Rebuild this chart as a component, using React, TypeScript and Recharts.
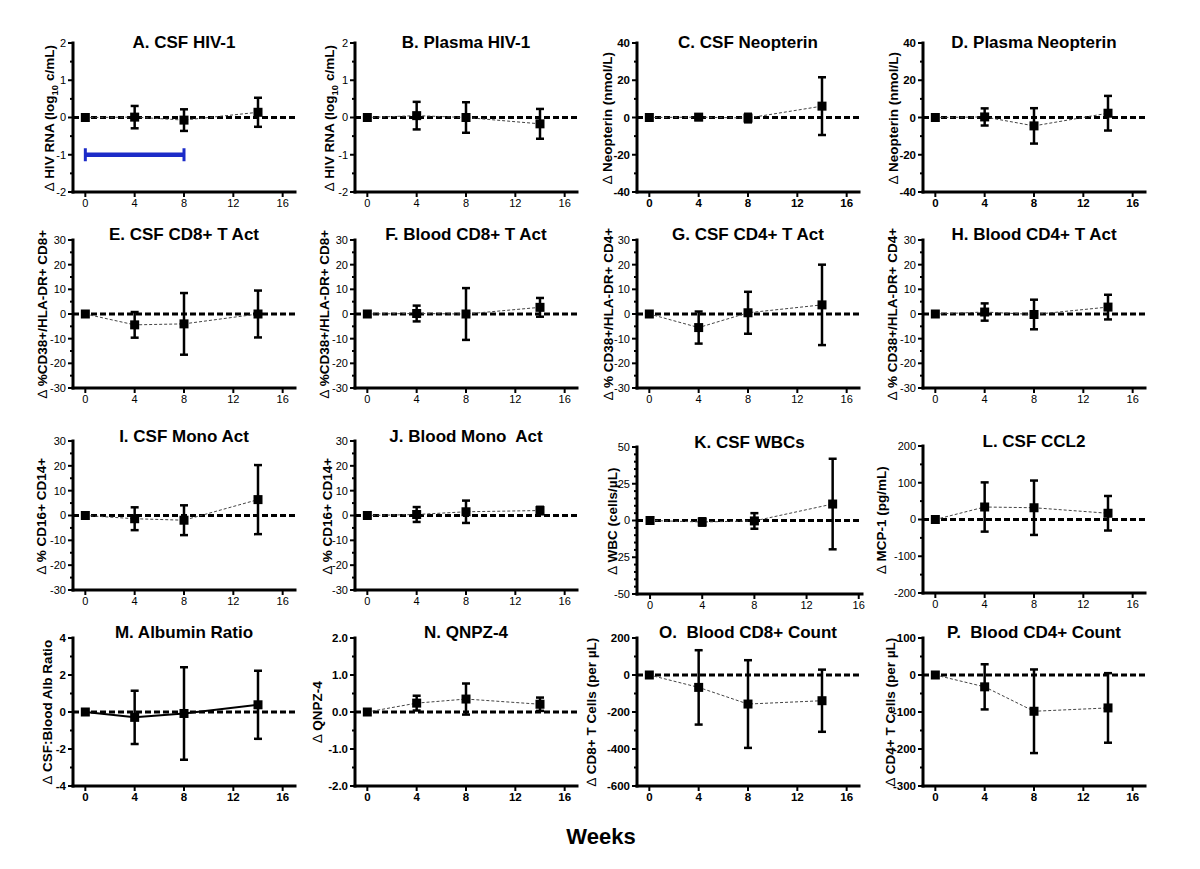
import React from "react";
import { LineChart, Line, XAxis, YAxis, ReferenceLine, ErrorBar } from "recharts";

// study visits (weeks) and x-axis ticks
const weeks = [0, 4, 8, 14];
const xTicks = [0, 4, 8, 12, 16];

// A. CSF HIV-1
const csfHivMean = [0, 0.01, -0.07, 0.14];
const csfHivErr = [0, 0.3, 0.29, 0.39];
// B. Plasma HIV-1
const plasmaHivMean = [0, 0.05, 0.0, -0.17];
const plasmaHivErr = [0, 0.37, 0.41, 0.4];
// C. CSF Neopterin
const csfNeoMean = [0, 0.2, -0.3, 6.1];
const csfNeoErr = [0, 1.5, 2.3, 15.5];
// D. Plasma Neopterin
const plasmaNeoMean = [0, 0.3, -4.5, 2.3];
const plasmaNeoErr = [0, 4.6, 9.5, 9.3];
// E. CSF CD8+ T Act
const csfCd8ActMean = [0, -4.4, -4.0, 0];
const csfCd8ActErr = [0, 5.2, 12.5, 9.5];
// F. Blood CD8+ T Act
const bloodCd8ActMean = [0, 0.2, 0, 2.7];
const bloodCd8ActErr = [0, 3.2, 10.5, 3.8];
// G. CSF CD4+ T Act
const csfCd4ActMean = [0, -5.5, 0.5, 3.7];
const csfCd4ActErr = [0, 6.5, 8.5, 16.3];
// H. Blood CD4+ T Act
const bloodCd4ActMean = [0, 0.8, -0.2, 2.8];
const bloodCd4ActErr = [0, 3.5, 6, 5];
// I. CSF Mono Act
const csfMonoMean = [0, -1.3, -1.9, 6.4];
const csfMonoErr = [0, 4.6, 6, 13.9];
// J. Blood Mono Act
const bloodMonoMean = [0, 0.4, 1.5, 2];
const bloodMonoErr = [0, 3, 4.5, 1.5];
// K. CSF WBCs
const csfWbcMean = [0, -1, -0.3, 11.2];
const csfWbcErr = [0, 2.5, 5.3, 30.8];
// L. CSF CCL2
const csfCcl2Mean = [0, 34, 32, 17];
const csfCcl2Err = [0, 67, 74, 47];
// M. Albumin Ratio
const albRatioMean = [0, -0.29, -0.08, 0.39];
const albRatioErr = [0, 1.44, 2.5, 1.84];
// N. QNPZ-4
const qnpzMean = [0, 0.24, 0.35, 0.21];
const qnpzErr = [0, 0.2, 0.42, 0.18];
// O. Blood CD8+ Count
const cd8CountMean = [0, -67, -157, -139];
const cd8CountErr = [0, 201, 237, 168];
// P. Blood CD4+ Count
const cd4CountMean = [0, -32, -98, -89];
const cd4CountErr = [0, 61, 113, 94];

// treatment bar drawn in panel A
const barWeeks = [0, 8];
const barLevel = [-1, -1];

// y-axis major ticks
const hivTicks = [-2, -1, 0, 1, 2];
const neoTicks = [-40, -20, 0, 20, 40];
const actTicks = [-30, -20, -10, 0, 10, 20, 30];
const wbcTicks = [-50, -25, 0, 25, 50];
const ccl2Ticks = [-200, -100, 0, 100, 200];
const albTicks = [-4, -2, 0, 2, 4];
const qnpzTicks = [-2, -1, 0, 1, 2];
const cd8Ticks = [-600, -400, -200, 0, 200];
const cd4Ticks = [-300, -200, -100, 0, 100];

const AXW = 50; // svg space left of the y axis
const TOPM = 8;
const RIGHTM = 8;
const XAH = 26;
const colX = [73, 355, 637, 923];
const FONT = '"Liberation Sans", Arial, Helvetica, sans-serif';
const BLUE = "#1c2bc8";

type PanelCfg = {
  title: string;
  ylabel: React.ReactNode;
  mean: number[];
  err: number[];
  yTicks: number[];
  minorDiv: number;
  col: number;
  top: number;
  h: number;
  titleY: number;
  labelDx: number;
  xMax?: number;
  w?: number;
  bold?: boolean;
  solid?: boolean;
  decimals?: number;
  bar?: boolean;
};

const tri = <span style={{ fontWeight: 400 }}>∆</span>;

const hivLabel = (
  <>
    {tri} HIV RNA (log<sub style={{ fontSize: "0.7em" }}>10</sub> c/mL)
  </>
);

const lbl = (s: string) => (
  <>
    {tri} {s}
  </>
);

const panels: PanelCfg[] = [
  { title: "A. CSF HIV-1", ylabel: hivLabel, mean: csfHivMean, err: csfHivErr, yTicks: hivTicks, minorDiv: 2, col: 0, top: 43, h: 149, titleY: 43, labelDx: -23, bar: true },
  { title: "B. Plasma HIV-1", ylabel: hivLabel, mean: plasmaHivMean, err: plasmaHivErr, yTicks: hivTicks, minorDiv: 2, col: 1, top: 43, h: 149, titleY: 43, labelDx: -25 },
  { title: "C. CSF Neopterin", ylabel: lbl("Neopterin (nmol/L)"), mean: csfNeoMean, err: csfNeoErr, yTicks: neoTicks, minorDiv: 2, col: 2, top: 43, h: 149, titleY: 43, labelDx: -29, bold: true },
  { title: "D. Plasma Neopterin", ylabel: lbl("Neopterin (nmol/L)"), mean: plasmaNeoMean, err: plasmaNeoErr, yTicks: neoTicks, minorDiv: 2, col: 3, top: 43, h: 149, titleY: 43, labelDx: -29, bold: true },

  { title: "E. CSF CD8+ T Act", ylabel: lbl("%CD38+/HLA-DR+ CD8+"), mean: csfCd8ActMean, err: csfCd8ActErr, yTicks: actTicks, minorDiv: 2, col: 0, top: 240, h: 148, titleY: 235, labelDx: -30 },
  { title: "F. Blood CD8+ T Act", ylabel: lbl("%CD38+/HLA-DR+ CD8+"), mean: bloodCd8ActMean, err: bloodCd8ActErr, yTicks: actTicks, minorDiv: 2, col: 1, top: 240, h: 148, titleY: 235, labelDx: -30 },
  { title: "G. CSF CD4+ T Act", ylabel: lbl("% CD38+/HLA-DR+ CD4+"), mean: csfCd4ActMean, err: csfCd4ActErr, yTicks: actTicks, minorDiv: 2, col: 2, top: 240, h: 148, titleY: 235, labelDx: -28 },
  { title: "H. Blood CD4+ T Act", ylabel: lbl("% CD38+/HLA-DR+ CD4+"), mean: bloodCd4ActMean, err: bloodCd4ActErr, yTicks: actTicks, minorDiv: 2, col: 3, top: 240, h: 148, titleY: 235, labelDx: -30 },

  { title: "I. CSF Mono Act", ylabel: lbl("% CD16+ CD14+"), mean: csfMonoMean, err: csfMonoErr, yTicks: actTicks, minorDiv: 2, col: 0, top: 441, h: 149, titleY: 437, labelDx: -31 },
  { title: "J. Blood Mono  Act", ylabel: lbl("% CD16+ CD14+"), mean: bloodMonoMean, err: bloodMonoErr, yTicks: actTicks, minorDiv: 2, col: 1, top: 441, h: 149, titleY: 437, labelDx: -27 },
  { title: "K. CSF WBCs", ylabel: lbl("WBC (cells/µL)"), mean: csfWbcMean, err: csfWbcErr, yTicks: wbcTicks, minorDiv: 5, col: 2, top: 447, h: 147, titleY: 443, labelDx: -24, xMax: 16.25, w: 225 },
  { title: "L. CSF CCL2", ylabel: lbl("MCP-1 (pg/mL)"), mean: csfCcl2Mean, err: csfCcl2Err, yTicks: ccl2Ticks, minorDiv: 2, col: 3, top: 446, h: 147, titleY: 442, labelDx: -41 },

  { title: "M. Albumin Ratio", ylabel: lbl("CSF:Blood Alb Ratio"), mean: albRatioMean, err: albRatioErr, yTicks: albTicks, minorDiv: 2, col: 0, top: 638, h: 148, titleY: 633, labelDx: -25, bold: true, solid: true },
  { title: "N. QNPZ-4", ylabel: lbl("QNPZ-4"), mean: qnpzMean, err: qnpzErr, yTicks: qnpzTicks, minorDiv: 2, col: 1, top: 638, h: 148, titleY: 633, labelDx: -37, bold: true, decimals: 1 },
  { title: "O.  Blood CD8+ Count", ylabel: lbl("CD8+ T Cells (per µL)"), mean: cd8CountMean, err: cd8CountErr, yTicks: cd8Ticks, minorDiv: 2, col: 2, top: 638, h: 148, titleY: 633, labelDx: -45, bold: true },
  { title: "P.  Blood CD4+ Count", ylabel: lbl("CD4+ T Cells (per µL)"), mean: cd4CountMean, err: cd4CountErr, yTicks: cd4Ticks, minorDiv: 2, col: 3, top: 638, h: 148, titleY: 633, labelDx: -32, bold: true },
];

function withMinors(majors: number[], div: number) {
  const out: number[] = [];
  for (let i = 0; i < majors.length - 1; i++) {
    const a = majors[i];
    const b = majors[i + 1];
    for (let k = 0; k < div; k++) out.push(a + ((b - a) * k) / div);
  }
  out.push(majors[majors.length - 1]);
  return out;
}

const SquareDot = (props: any) => {
  const { cx, cy, index } = props;
  if (cx == null || cy == null) return <g key={`sq-${index}`} />;
  return <rect key={`sq-${index}`} x={cx - 4.5} y={cy - 4.5} width={9} height={9} fill="#000" />;
};

const CapDot = (props: any) => {
  const { cx, cy, index } = props;
  if (cx == null || cy == null) return <g key={`cap-${index}`} />;
  return <line key={`cap-${index}`} x1={cx} x2={cx} y1={cy - 6.5} y2={cy + 6.5} stroke={BLUE} strokeWidth={3} />;
};

function Panel({ p }: { p: PanelCfg }) {
  const w = p.w ?? 222;
  const xMax = p.xMax ?? 17;
  const axisX = colX[p.col];
  const data = weeks.map((wk, i) => ({ week: wk, mean: p.mean[i], err: p.err[i] }));
  const barData = barWeeks.map((wk, i) => ({ week: wk, level: barLevel[i] }));
  const ticks = withMinors(p.yTicks, p.minorDiv);
  const yMin = p.yTicks[0];
  const yMax = p.yTicks[p.yTicks.length - 1];
  const weight = p.bold ? 700 : 400;
  const tickFs = p.bold ? 11.5 : 11;

  const yTick = (tp: any) => {
    const v = tp.payload.value as number;
    const major = p.yTicks.some((m) => Math.abs(m - v) < 1e-9);
    const len = major ? 5 : 3;
    return (
      <g>
        <line x1={AXW - len} x2={AXW} y1={tp.y} y2={tp.y} stroke="#000" strokeWidth={2} />
        {major && (
          <text x={AXW - 7} y={tp.y} dy="0.35em" textAnchor="end" fontSize={tickFs} fontWeight={weight} fill="#000">
            {p.decimals ? v.toFixed(p.decimals) : String(v)}
          </text>
        )}
      </g>
    );
  };

  return (
    <>
      <div style={{ position: "absolute", left: axisX - AXW, top: p.top - TOPM }}>
        <LineChart
          width={AXW + w + RIGHTM}
          height={TOPM + p.h + XAH}
          data={data}
          margin={{ top: TOPM, right: RIGHTM, left: 0, bottom: 0 }}
        >
          <XAxis
            dataKey="week"
            type="number"
            domain={[-1, xMax]}
            ticks={xTicks}
            interval={0}
            allowDataOverflow
            height={XAH}
            tickSize={5}
            tickMargin={2}
            tickLine={{ stroke: "#000", strokeWidth: 2 }}
            axisLine={{ stroke: "#000", strokeWidth: 3, strokeLinecap: "square" }}
            tick={{ fill: "#000", fontSize: tickFs, fontWeight: weight }}
          />
          <YAxis
            type="number"
            domain={[yMin, yMax]}
            ticks={ticks}
            interval={0}
            allowDataOverflow
            width={AXW}
            tickLine={false}
            axisLine={{ stroke: "#000", strokeWidth: 3, strokeLinecap: "square" }}
            tick={yTick}
          />
          <ReferenceLine y={0} stroke="#000" strokeWidth={3} strokeDasharray="6 3" />
          {p.bar && (
            <Line
              data={barData}
              dataKey="level"
              stroke={BLUE}
              strokeWidth={4.5}
              dot={CapDot}
              activeDot={false}
              isAnimationActive={false}
            />
          )}
          <Line
            dataKey="mean"
            stroke={p.solid ? "#000" : "#444"}
            strokeWidth={p.solid ? 2 : 1}
            strokeDasharray={p.solid ? undefined : "3 2"}
            dot={SquareDot}
            activeDot={false}
            isAnimationActive={false}
          >
            <ErrorBar dataKey="err" direction="y" width={4} stroke="#000" strokeWidth={2.5} />
          </Line>
        </LineChart>
      </div>
      <div
        style={{
          position: "absolute",
          left: axisX,
          width: w,
          top: p.titleY - 11,
          height: 22,
          lineHeight: "22px",
          textAlign: "center",
          fontSize: 17,
          fontWeight: 700,
          whiteSpace: "pre",
        }}
      >
        {p.title}
      </div>
      <div
        style={{
          position: "absolute",
          left: axisX + p.labelDx - 110,
          top: p.top + p.h / 2 - 9,
          width: 220,
          height: 18,
          lineHeight: "18px",
          textAlign: "center",
          fontSize: 13.5,
          fontWeight: 700,
          whiteSpace: "nowrap",
          transform: "rotate(-90deg)",
        }}
      >
        {p.ylabel}
      </div>
    </>
  );
}

export default function App() {
  return (
    <div
      style={{
        position: "absolute",
        left: 0,
        top: 0,
        width: 1200,
        height: 869,
        background: "#fff",
        color: "#000",
        fontFamily: FONT,
        overflow: "hidden",
      }}
    >
      {panels.map((p) => (
        <Panel key={p.title} p={p} />
      ))}
      <div
        style={{
          position: "absolute",
          left: 500,
          width: 202,
          top: 824,
          height: 26,
          lineHeight: "26px",
          textAlign: "center",
          fontSize: 22,
          fontWeight: 700,
        }}
      >
        Weeks
      </div>
    </div>
  );
}
